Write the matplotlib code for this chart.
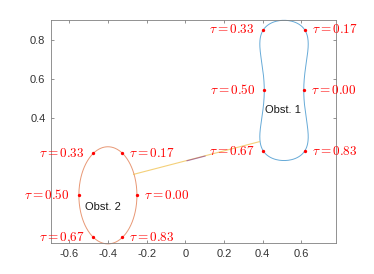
import numpy as np
import matplotlib
matplotlib.use("Agg")
import matplotlib.pyplot as plt
from matplotlib.ticker import FuncFormatter

plt.rcParams["mathtext.fontset"] = "cm"

# ---------------- data ----------------
tau_values = [0.0, 1/6, 1/3, 0.5, 2/3, 5/6]
tau_labels = ["0.00", "0.17", "0.33", "0.50", "0.67", "0.83"]
tau_side = ["right", "right", "left", "left", "left", "right"]

# Obstacle 1 (peanut): centre, a, c (x = a cos t - c cos 3t), b (y = b sin t)
obst1_center = (0.51, 0.54)
obst1_a = 0.139
obst1_c = 0.037
obst1_b = 0.361

# Obstacle 2 (ellipse): centre and semi-axes
obst2_center = (-0.40, 0.0)
obst2_rx = 0.15
obst2_ry = 0.25

# connecting path
path_x = [-0.267, 0.382]
path_y = [0.108, 0.276]
path_mid_x = [0.009, 0.102]
path_mid_y = [0.178, 0.202]

obst_names = ["Obst. 1", "Obst. 2"]
obst_label_x = [0.412, -0.518]
obst_label_y = [0.441, -0.061]

xticks = [-0.6, -0.4, -0.2, 0.0, 0.2, 0.4, 0.6]
yticks = [0.4, 0.6, 0.8]
xlim = (-0.694, 0.776)
ylim = (-0.247, 0.901)

# ---------------- shapes ----------------
def obst1(t):
    cx, cy = obst1_center
    x = cx + obst1_a * np.cos(t) - obst1_c * np.cos(3 * t)
    y = cy + obst1_b * np.sin(t)
    return x, y

def obst2(t):
    cx, cy = obst2_center
    return cx + obst2_rx * np.cos(t), cy + obst2_ry * np.sin(t)

fig = plt.figure(figsize=(3.74, 2.74), dpi=100)
ax = fig.add_axes([51/374, (274-243.3)/274, (335.5-51)/374, (243.3-20.3)/274])

tt = np.linspace(0, 2*np.pi, 400)
x1, y1 = obst1(tt)
x2, y2 = obst2(tt)
ax.plot(x1, y1, color="#0072BD", lw=0.7, alpha=0.6, clip_on=False)
ax.plot(x2, y2, color="#D95319", lw=0.7, alpha=0.6, clip_on=False)
ax.plot(path_x, path_y, color="#EDB120", lw=0.8, alpha=0.6)
ax.plot(path_mid_x, path_mid_y, color="#7E2F8E", lw=0.8, alpha=0.6)

tv = 2*np.pi*np.array(tau_values)
for shape in (obst1, obst2):
    px, py = shape(tv)
    ax.plot(px, py, 'o', color='red', ms=2.4, mec='none', clip_on=False, zorder=5)
    for xx, yy, lab, side in zip(px, py, tau_labels, tau_side):
        off = 5.0 if side == "right" else -6.5
        ha = "left" if side == "right" else "right"
        ax.annotate(r"$\tau = %s$" % lab, (xx, yy), xytext=(off, 0),
                    textcoords="offset points", ha=ha, va="center",
                    color="red", fontsize=9.5, zorder=6)

for name, lx, ly in zip(obst_names, obst_label_x, obst_label_y):
    ax.text(lx, ly, name, fontsize=8, family="Liberation Sans",
            color="#1a1a1a", va="center", ha="left")

ax.set_xlim(*xlim)
ax.set_ylim(*ylim)
ax.set_xticks(xticks)
ax.set_yticks(yticks)
fmt = FuncFormatter(lambda v, p: ("%g" % round(v, 2)).replace("\u2212", "-"))
ax.xaxis.set_major_formatter(fmt)
ax.yaxis.set_major_formatter(fmt)
ax.tick_params(direction="in", length=2.5, width=0.6, colors="#808080",
               labelcolor="#333333", labelsize=8, top=True, right=True, pad=4)
for lab in ax.get_xticklabels() + ax.get_yticklabels():
    lab.set_family("Liberation Sans")
for sp in ax.spines.values():
    sp.set_color("#808080")
    sp.set_linewidth(0.6)

fig.savefig("out.png", dpi=100)
